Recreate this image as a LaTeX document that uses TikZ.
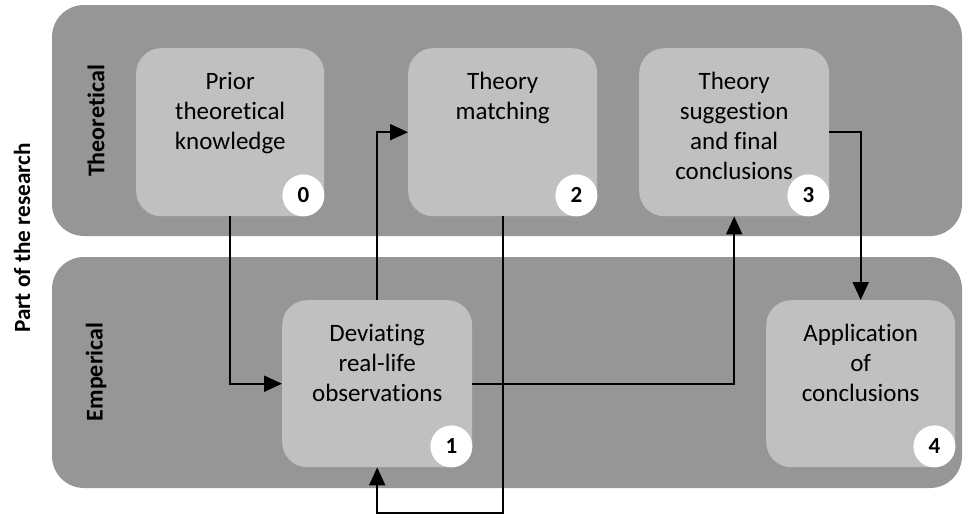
\documentclass[tikz,border=0pt]{standalone}
\usepackage{fontspec}
\setmainfont{Carlito}[Ligatures={NoCommon,NoContextual}]
\usetikzlibrary{arrows.meta}
\definecolor{bandgray}{RGB}{150,150,150}
\definecolor{boxgray}{RGB}{192,192,192}
\tikzset{
  band/.style={fill=bandgray, draw=none, rounded corners=32pt},
  stagebox/.style={fill=boxgray, draw=none, rounded corners=25pt, minimum height=168pt, anchor=north west, inner sep=0pt},
  stagetext/.style={anchor=north, align=center, inner sep=0pt, font=\fontsize{25}{30}\selectfont},
  badge/.style={circle, fill=white, minimum size=42pt, inner sep=0pt, font=\fontsize{23}{26}\selectfont\bfseries},
  sidelabel/.style={rotate=90, font=\fontsize{24}{28}\selectfont\bfseries},
  flow/.style={line width=2pt, -{Triangle[length=18pt,width=16pt]}},
}
\begin{document}
\begin{tikzpicture}[x=1pt, y=-1pt]
\useasboundingbox (0,0) rectangle (963,515);

% swim lanes
\fill[band] (52,5) rectangle (962,236);
\fill[band] (52,257) rectangle (962,488);

% lane titles
\node[sidelabel] (lblth) at (96,121) {Theoretical};
\node[sidelabel] (lblem) at (96,372) {Emperical};
\node[sidelabel, font=\fontsize{23.2}{27}\selectfont\bfseries] (lblpart) at (22,238) {Part of the research};

% stage boxes
\node[stagebox, minimum width=188pt] (box0) at (136,48) {};
\node[stagebox, minimum width=189pt] (box2) at (408,48) {};
\node[stagebox, minimum width=190pt] (box3) at (639,48) {};
\node[stagebox, minimum width=190pt, minimum height=167pt] (box1) at (282,300) {};
\node[stagebox, minimum width=189pt, minimum height=167pt] (box4) at (766,300) {};

% stage texts
\node[stagetext] (txt0) at ([yshift=-24pt]box0.north) {Prior\\theoretical\\knowledge};
\node[stagetext] (txt2) at ([yshift=-24pt]box2.north) {Theory\\matching};
\node[stagetext] (txt3) at ([yshift=-24pt]box3.north) {Theory\\suggestion\\and final\\conclusions};
\node[stagetext] (txt1) at ([yshift=-24pt]box1.north) {Deviating\\real-life\\observations};
\node[stagetext] (txt4) at ([yshift=-24pt]box4.north) {Application\\of\\conclusions};

% connectors
\coordinate (loopR) at (box2.south |- 0,513);
\coordinate (loopL) at (box1.south |- 0,513);
\draw[flow] (box0.south) |- (box1.west);
\draw[flow] (box1.north) |- (box2.west);
\draw[flow] (box2.south) -- (loopR) -- (loopL) -- (box1.south);
\draw[flow] (box1.east) -| (box3.south);
\draw[flow] (box3.east) -| (box4.north);

% stage numbers
\node[badge] (num0) at ([xshift=-21pt,yshift=21pt]box0.south east) {0};
\node[badge] (num2) at ([xshift=-21pt,yshift=21pt]box2.south east) {2};
\node[badge] (num3) at ([xshift=-21pt,yshift=21pt]box3.south east) {3};
\node[badge] (num1) at ([xshift=-21pt,yshift=21pt]box1.south east) {1};
\node[badge] (num4) at ([xshift=-21pt,yshift=21pt]box4.south east) {4};
\end{tikzpicture}
\end{document}
